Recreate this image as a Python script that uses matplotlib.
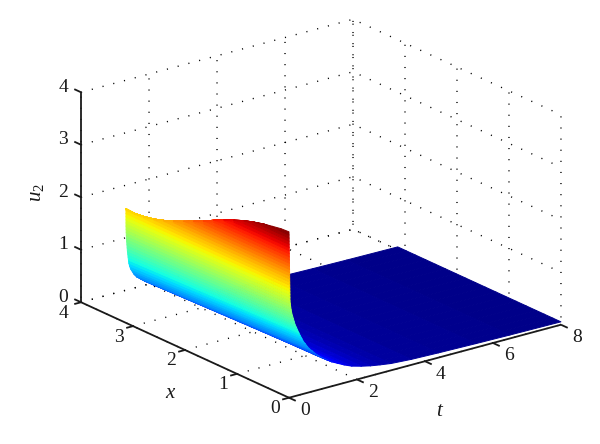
import matplotlib
matplotlib.use("Agg")
import matplotlib.pyplot as plt
import numpy as np
from mpl_toolkits.mplot3d import proj3d

plt.rcParams["font.family"] = ["Liberation Serif", "DejaVu Serif"]
plt.rcParams["mathtext.fontset"] = "custom"
plt.rcParams["mathtext.rm"] = "Liberation Serif"
plt.rcParams["mathtext.it"] = "Liberation Serif:italic"

T_TICKS = [0, 2, 4, 6, 8]
X_TICKS = [0, 1, 2, 3, 4]
U_TICKS = [0, 1, 2, 3, 4]

# position along x and height of the t = 0 crest
x_nodes = [0, 0.155, 0.32, 0.477, 0.67, 0.864, 1.06, 1.25, 1.45, 1.64, 1.83, 2.02,
           2.22, 2.41, 2.6, 2.795, 2.97, 3.14]
crest = [3.16, 3.15, 3.12, 3.09, 3.04, 2.98, 2.9, 2.82, 2.72, 2.62, 2.53, 2.44,
         2.35, 2.28, 2.22, 2.18, 2.16, 2.17]

# decay in t read along the x = 0 edge
height = [3.16, 3.1, 3.04, 2.98, 2.92, 2.86, 2.8, 2.74, 2.68, 2.62,
          2.56, 2.5, 2.44, 2.38, 2.32, 2.26, 2.2, 2.14, 2.08, 2.02,
          1.96, 1.9, 1.84, 1.78, 1.72, 1.66, 1.6, 1.54, 1.48, 1.42,
          1.36, 1.3, 1.24, 1.18, 1.12, 1.06, 1.0, 0.94, 0.88, 0.82,
          0.76, 0.7, 0.64, 0.58, 0.52, 0.46, 0.4, 0.34, 0.28, 0.23,
          0.19, 0.16, 0.13, 0.105, 0.09, 0.075, 0.065, 0.055]
t_nodes = [0, 0.0015, 0.003, 0.004, 0.0055, 0.007, 0.008, 0.0095, 0.011, 0.012,
           0.0135, 0.015, 0.0165, 0.018, 0.019, 0.0205, 0.022, 0.023, 0.0245, 0.026,
           0.027, 0.0285, 0.03, 0.04, 0.05, 0.065, 0.08, 0.105, 0.13, 0.155,
           0.18, 0.22, 0.255, 0.295, 0.335, 0.38, 0.42, 0.485, 0.54, 0.61,
           0.7, 0.785, 0.885, 0.995, 1.13, 1.27, 1.45, 1.63, 1.85, 2.13,
           2.4, 2.68, 3.0, 3.6, 4.4, 5.5, 6.5, 8.0]
# how much earlier the same height is reached along the far x edge
pull = [0.73] * 35 + [0.7, 0.66, 0.6, 0.55, 0.48, 0.38, 0.3, 0.22, 0.1] + [0] * 14

INK = "#1a1a1a"
GRID_STYLE = dict(color="black", lw=1.0, ls=(0, (0.8, 7.2)), zorder=1)
AXIS_STYLE = dict(color=INK, lw=1.3, zorder=3, solid_capstyle="butt")

fig = plt.figure(figsize=(6, 4.44), dpi=100)
size = 518
cx, cy = 314, 215.5
ax = fig.add_axes([(cx - size / 2) / 600, 1 - (cy + size / 2) / 444, size / 600, size / 444],
                  projection="3d", proj_type="ortho")
ax.computed_zorder = False
ax.set_axis_off()
ax.set_xlim(0, 8)
ax.set_ylim(0, 4)
ax.set_zlim(0, 4)
ax.set_box_aspect((342, 342, 224))
ax.view_init(elev=20.55, azim=-127.4)


def tick_label(t, x, u, text, dx, dy):
    xp, yp, _ = proj3d.proj_transform(t, x, u, ax.get_proj())
    ax.annotate(text, (xp, yp), xytext=(dx, dy), textcoords="offset pixels",
                ha="center", va="center", fontsize=14, color=INK, annotation_clip=False)


# floor and back wall grid
for t in T_TICKS:
    ax.plot([t, t, t], [0, 4, 4], [0, 0, 4], **GRID_STYLE)
for x in X_TICKS:
    ax.plot([0, 8, 8], [x, x, x], [0, 0, 4], **GRID_STYLE)
for u in U_TICKS:
    ax.plot([0, 8, 8], [4, 4, 0], [u, u, u], **GRID_STYLE)

# axis lines, ticks and tick labels
ax.plot([0, 0], [4, 0], [0, 0], **AXIS_STYLE)
ax.plot([0, 8], [0, 0], [0, 0], **AXIS_STYLE)
ax.plot([0, 0], [4, 4], [0, 4], **AXIS_STYLE)
for t in T_TICKS:
    ax.plot([t, t], [0, -0.13], [0, 0], **AXIS_STYLE)
    tick_label(t, 0, 0, str(t), 15.7, -13)
for x in X_TICKS:
    ax.plot([0, -0.2], [x, x], [0, 0], **AXIS_STYLE)
    tick_label(0, x, 0, str(x), -18 if x == 4 else -14, -11)
for u in U_TICKS:
    ax.plot([0, 0], [4, 4.13], [u, u], **AXIS_STYLE)
    tick_label(0, 4, u, str(u), -18, 5)

X, T = np.array(x_nodes), np.array(t_nodes)
T_grid = np.outer(np.ones_like(X), T) * (1 - np.outer(X / X.max(), pull))
X_grid = np.outer(X, np.ones_like(T))
U = np.minimum.outer(crest, height)
surf = ax.plot_surface(T_grid, X_grid, U, cmap="jet", vmin=0.03, vmax=3.16, rstride=1, cstride=1,
                       linewidth=0.7, antialiased=True, zorder=2)
surf.set_edgecolor("face")

fig.text(439 / 600, 1 - 411 / 444, "t", style="italic", ha="center", va="center", fontsize=15, color=INK)
fig.text(170 / 600, 1 - 393 / 444, "x", style="italic", ha="center", va="center", fontsize=15, color=INK)
fig.text(37 / 600, 1 - 193 / 444, r"$u_2$", rotation=90, ha="center", va="center", fontsize=15, color=INK)

fig.savefig("out.png", dpi=100)
